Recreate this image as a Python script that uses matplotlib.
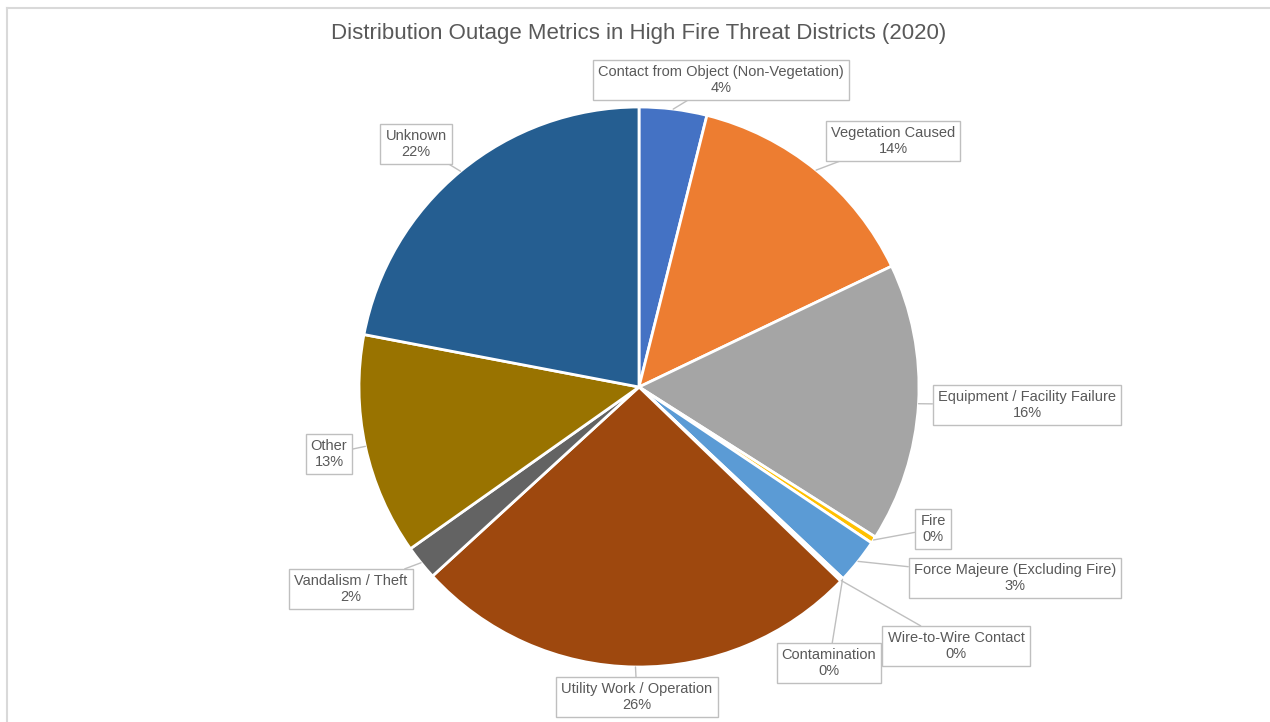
import matplotlib.pyplot as plt
import numpy as np
from matplotlib.lines import Line2D

labels = ['Contact from Object (Non-Vegetation)', 'Vegetation Caused',
          'Equipment / Facility Failure', 'Fire', 'Force Majeure (Excluding Fire)',
          'Contamination', 'Wire-to-Wire Contact', 'Utility Work / Operation',
          'Vandalism / Theft', 'Other', 'Unknown']
values = [3.9, 14.0, 16.1, 0.4, 2.6, 0.1, 0.1, 26.0, 2.0, 12.8, 22.0]
colors = ['#4472C4', '#ED7D31', '#A5A5A5', '#FFC000', '#5B9BD5', '#70AD47',
          '#264478', '#9E480E', '#636363', '#997300', '#255E91']
# label box centres in pixels (x from left, y from top)
box_pos = [(721, 80), (893, 141), (1027, 405), (933, 529), (1015, 578),
           (829, 663), (956, 646), (637, 697), (351, 589), (329, 454), (416, 144)]

W, H = 1270, 722
fig = plt.figure(figsize=(W / 100, H / 100), dpi=100)
plt.rcParams['font.family'] = ['Liberation Sans', 'DejaVu Sans']

cx, cy, r = 639, 387, 280
ax = fig.add_axes([(cx - r) / W, (H - cy - r) / H, 2 * r / W, 2 * r / H])
wedges, _ = ax.pie(values, colors=colors, startangle=90, counterclock=False,
                   radius=1.0, wedgeprops=dict(edgecolor='white', linewidth=2))
ax.set_xlim(-1, 1)
ax.set_ylim(-1, 1)
ax.set_aspect('equal')
ax.axis('off')

total = sum(values)
for w, lab, v, (bx, by) in zip(wedges, labels, values, box_pos):
    ang = np.deg2rad((w.theta1 + w.theta2) / 2)
    xy = (np.cos(ang), np.sin(ang))
    ax.annotate(f'{lab}\n{v / total * 100:.0f}%', xy=xy,
                xytext=(bx, H - by), textcoords='figure pixels',
                ha='center', va='center', fontsize=10.5, color='#595959',
                linespacing=1.1,
                bbox=dict(boxstyle='square,pad=0.35', fc='white', ec='#bfbfbf', lw=1),
                arrowprops=dict(arrowstyle='-', color='#bfbfbf', lw=1,
                                shrinkA=0, shrinkB=0))

fig.text(639 / W, 1 - 33 / H, 'Distribution Outage Metrics in High Fire Threat Districts (2020)',
         ha='center', va='center', fontsize=16, color='#595959')

# chart frame
fig.add_artist(Line2D([6.5 / W, 6.5 / W], [0, 1 - 7.5 / H], color='#d9d9d9', lw=1.5))
fig.add_artist(Line2D([6.5 / W, 1], [1 - 7.5 / H, 1 - 7.5 / H], color='#d9d9d9', lw=1.5))

fig.savefig('out.png', dpi=100, facecolor='white')
